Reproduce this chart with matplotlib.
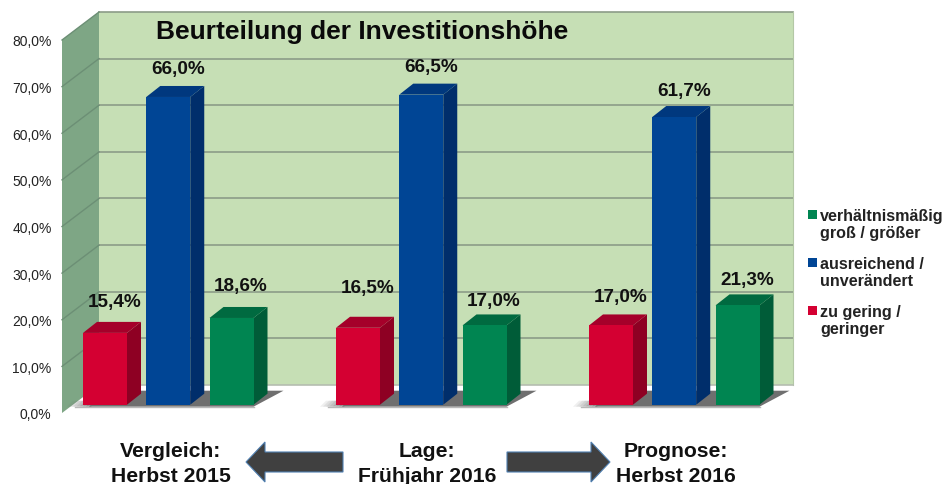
import matplotlib
matplotlib.use("Agg")
import matplotlib.pyplot as plt
from matplotlib.patches import Polygon, FancyArrow
from matplotlib.ticker import FuncFormatter

plt.rcParams['font.family'] = ['Liberation Sans', 'DejaVu Sans']

# ---- data ----
title = "Beurteilung der Investitionshöhe"
periods = ["Vergleich:\nHerbst 2015", "Lage:\nFrühjahr 2016", "Prognose:\nHerbst 2016"]
series_names = ["verhältnismäßig\ngroß / größer", "ausreichend /\nunverändert", "zu gering /\ngeringer"]
zu_gering = [15.4, 16.5, 17.0]
ausreichend = [66.0, 66.5, 61.7]
groesser = [18.6, 17.0, 21.3]
y_ticks = [0, 10, 20, 30, 40, 50, 60, 70, 80]

# ---- styles (front, side, top) ----
RED = ("#d40032", "#8e0023", "#a5002a")
BLUE = ("#004595", "#002e6b", "#00387e")
GREEN = ("#008551", "#005c38", "#006a40")
WALL_BACK = "#c6dfb5"
WALL_LEFT = "#7ea685"
GRID_BACK = "#8c9c88"
GRID_LEFT = "#6c8f75"
# nudge of the data labels, in pixels above the bar's back top edge
label_lift = [[20, 29, 18], [17, 17, 16], [21, 14, 15]]

W, H = 948, 485
fig = plt.figure(figsize=(W / 100, H / 100), dpi=100, facecolor="white")
L, R, B, T = 62, 793, 414, 41
ax = fig.add_axes([L / W, 1 - B / H, (R - L) / W, (B - T) / H])
XS = 63.25            # pixels per x unit
YS = (B - T) / 80     # pixels per percent
X0 = 105              # pixel of x=0
ax.set_xlim((L - X0) / XS, (R - X0) / XS)
ax.set_ylim(0, 80)
ax.patch.set_visible(False)
for s in ax.spines.values():
    s.set_visible(False)
ax.set_xticks([])
ax.set_yticks(y_ticks)
ax.yaxis.set_major_formatter(FuncFormatter(lambda v, p: f"{v:.1f}%".replace(".", ",")))
ax.tick_params(axis="y", length=0, pad=7.5, labelsize=10, labelcolor="#222222")


def px(dx):
    return dx / XS


def py(dy):
    return dy / YS


# walls
xl, xr = ax.get_xlim()
WX, WY = px(37), py(28)
ax.fill([xl + WX, xr, xr, xl + WX], [WY, WY, 80 + WY, 80 + WY], color=WALL_BACK, lw=0, zorder=1, clip_on=False)
ax.fill([xl, xl + WX, xl + WX, xl], [0, WY, 80 + WY, 80], color=WALL_LEFT, lw=0, zorder=1, clip_on=False)
for v in y_ticks:
    if v:
        ax.plot([xl + WX, xr], [v + WY, v + WY], color=GRID_BACK, lw=1.2, zorder=2, clip_on=False)
        ax.plot([xl, xl + WX], [v, v + WY], color=GRID_LEFT, lw=1.0, zorder=2, clip_on=False)
ax.plot([xr, xr], [WY, 80 + WY], color="#b4c8a6", lw=0.8, zorder=2, clip_on=False)
ax.plot([xl + WX, xr], [WY, WY], color="#b5bdb0", lw=1.2, zorder=2, clip_on=False)

# bars
BW = 44 / XS
Y0 = py(8.3)
DX, DY = px(14), py(11)
series = [(zu_gering, RED), (ausreichend, BLUE), (groesser, GREEN)]

# floor shadows
for g in range(3):
    x_left = g * 4 - BW / 2
    x_right = g * 4 + 2 + BW / 2
    yb, yt = Y0 - py(2), Y0 + py(14)
    ax.fill([x_left + px(6), x_right, x_right + px(30), x_left + px(26)], [yb, yb, yt, yt],
            color="#6f6f6f", lw=0, zorder=3, clip_on=False)
    for i in range(8):
        a = x_left - px(16) + i * px(3)
        ax.fill([a, a + px(3), a + px(3) + px(6), a + px(6)], [yb, yb, yb + py(6), yb + py(6)],
                color="#6f6f6f", alpha=(i + 1) / 9, lw=0, zorder=3, clip_on=False)
    ax.plot([x_left - px(8), x_right], [yb, yb], color="#b8b8b8", lw=1, zorder=3, clip_on=False)

for s, (vals, cols) in enumerate(series):
    front, side, top = cols
    xs = [g * 4 + s for g in range(3)]
    for x, v, lift in zip(xs, vals, label_lift[s]):
        xa, xb = x - BW / 2, x + BW / 2
        yt = Y0 + v
        ax.fill([xb, xb + DX, xb + DX, xb], [Y0, Y0 + DY, yt + DY, yt], color=side, lw=0, zorder=4, clip_on=False)
        ax.fill([xa, xb, xb + DX, xa + DX], [yt, yt, yt + DY, yt + DY], color=top, lw=0, zorder=4, clip_on=False)
        ax.text(x + px(9.5), yt + DY + py(lift), f"{v:.1f}%".replace(".", ","), ha="center", va="center",
                fontsize=13.6, fontweight="bold", color="#111111", zorder=8, clip_on=False)
    ax.bar(xs, vals, width=BW, bottom=Y0, color=front, lw=0, zorder=5, clip_on=False)

# title
fig.text(362 / W, 1 - 31.5 / H, title, ha="center", va="center", fontsize=19, fontweight="bold", color="#0a0a0a")

# period captions
for txt, cx in zip(periods, [171, 427, 676]):
    fig.text(cx / W, 1 - 464.5 / H, txt, ha="center", va="center", fontsize=15.2, fontweight="bold",
             color="#111111", linespacing=1.4)

# legend
for name, (_, cols), y0 in zip(series_names, series[::-1], [216, 264, 312]):
    fig.patches.append(Polygon([[808 / W, 1 - (y0 - 5) / H], [817 / W, 1 - (y0 - 5) / H],
                                [817 / W, 1 - (y0 + 4) / H], [808 / W, 1 - (y0 + 4) / H]],
                               closed=True, transform=fig.transFigure, color=cols[0], lw=0))
    fig.text(820 / W, 1 - (y0 + 9) / H, name, ha="left", va="center", fontsize=11.6, fontweight="bold",
             color="#222222", linespacing=1.14)

# arrows
for start, length, in [(343, -97), (507, 103)]:
    fig.patches.append(FancyArrow(start / W, 1 - 463 / H, length / W, 0, width=20 / H, head_width=40 / H,
                                  head_length=19 / W, length_includes_head=True,
                                  transform=fig.transFigure, facecolor="#404040", edgecolor="#4f7fb0", lw=0.8))

fig.savefig("out.png", dpi=100)
